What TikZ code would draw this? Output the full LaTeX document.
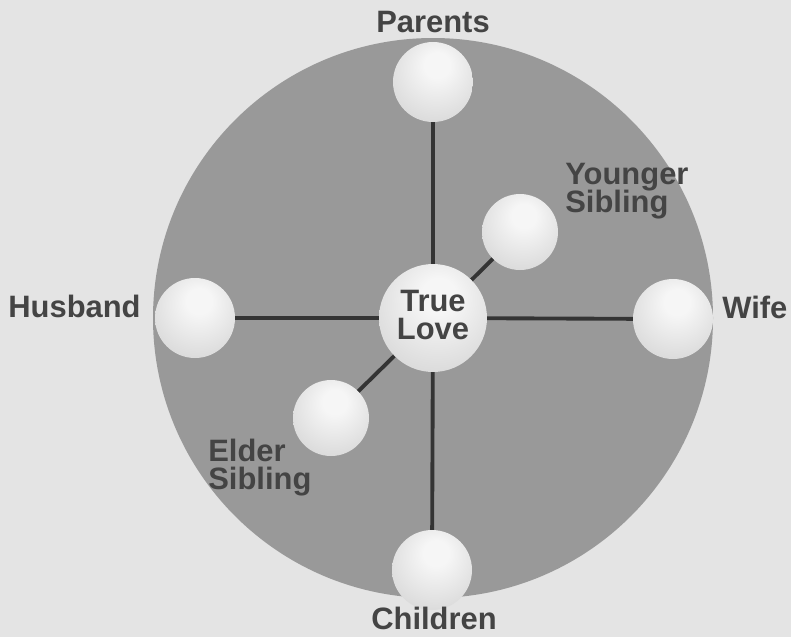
\documentclass[tikz,border=0pt]{standalone}
\usepackage{fontspec}
\setmainfont{Liberation Sans}
\usetikzlibrary{backgrounds}
\definecolor{bggray}{RGB}{228,228,228}
\definecolor{diskgray}{RGB}{153,153,153}
\definecolor{spokegray}{RGB}{52,52,52}
\definecolor{lblgray}{RGB}{68,68,68}
\definecolor{pearlhi}{RGB}{246,246,246}
\definecolor{pearlmid}{RGB}{216,216,216}
\definecolor{pearlrim}{RGB}{184,184,184}
\pgfdeclareradialshading{pearl}{\pgfpoint{3bp}{12bp}}{color(0bp)=(pearlhi); color(8bp)=(pearlhi); color(34bp)=(pearlmid); color(50bp)=(pearlrim); color(64bp)=(pearlrim)}
\newcommand{\lblfont}{\fontsize{17.6}{16}\selectfont\bfseries\lineskiplimit=-20pt}
\tikzset{
  pearl/.style={circle, shading=pearl, minimum size=1.6cm, inner sep=0pt},
  spoke/.style={draw=spokegray, line width=2.2pt},
  lbl/.style={font=\lblfont, text=lblgray, inner sep=0pt, align=left}
}
\begin{document}
\begin{tikzpicture}[x=0.02cm, y=-0.02cm]
  \useasboundingbox (0,0) rectangle (791,637);

  % Spheres
  \node[pearl, minimum size=2.16cm] (love) at (433,318) {};
  \node[pearl] (parents) at (433,82) {};
  \node[pearl] (husband) at (195,318) {};
  \node[pearl] (wife) at (673,319) {};
  \node[pearl] (children) at (432,570) {};
  \node[pearl, minimum size=1.52cm] (younger) at (520,232) {};
  \node[pearl, minimum size=1.52cm] (elder) at (331,418) {};

  % Disk and spokes behind
  \begin{scope}[on background layer]
    \fill[bggray] (0,0) rectangle (791,637);
    \fill[diskgray] (love.center) circle (280);
    \foreach \s in {parents,husband,wife,children,younger,elder}
      \draw[spoke] (love.center) -- (\s.center);
  \end{scope}

  % Labels
  \node[lbl, anchor=base] (lparents) at (433,32) {Parents};
  \node[lbl, anchor=base] (lchildren) at (434,629) {Children};
  \node[lbl, anchor=base west] (lhusband) at (8,317) {Husband};
  \node[lbl, anchor=base west] (lwife) at (722,318) {Wife};
  \node[lbl, anchor=west] (lyounger) at (565,191) {Younger\\Sibling};
  \node[lbl, anchor=west] (lelder) at (208,468) {Elder\\Sibling};
  \node[lbl, align=center] (llove) at (433,315) {True\\Love};
\end{tikzpicture}
\end{document}
